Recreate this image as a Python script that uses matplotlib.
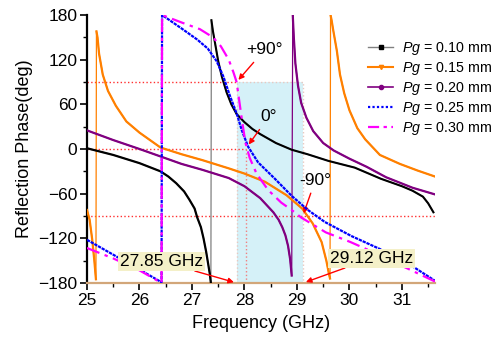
import matplotlib
matplotlib.use("Agg")
import matplotlib.pyplot as plt
from matplotlib.lines import Line2D
from matplotlib.ticker import MultipleLocator

plt.rcParams['font.family'] = ['Liberation Sans', 'DejaVu Sans']
plt.rcParams['mathtext.fontset'] = 'custom'
plt.rcParams['mathtext.it'] = 'Liberation Sans:italic'
plt.rcParams['mathtext.rm'] = 'Liberation Sans'

# ---------------- data (frequency GHz, reflection phase deg) ----------------
# Pg = 0.10 mm
f010_a = [25.0, 25.5, 26.0, 26.4, 26.55, 26.7, 26.85, 26.95, 27.05, 27.1, 27.17, 27.22, 27.27, 27.31, 27.34, 27.36]
p010_a = [1, -8, -19, -30, -37, -46, -57, -68, -80, -92, -105, -120, -138, -155, -168, -180]
f010_b = [27.37, 27.4, 27.45, 27.5, 27.57, 27.66, 27.75, 27.85, 28.0, 28.15, 28.3, 28.6, 28.9, 29.2, 29.6, 30.1, 30.6, 31.0, 31.2, 31.4, 31.5, 31.6]
p010_b = [173, 158, 138, 118, 97, 76, 60, 47, 36, 27, 20, 8, -1, -7, -16, -25, -40, -50, -56, -64, -73, -85]

# Pg = 0.15 mm
f015_a = [25.0, 25.05, 25.1, 25.14, 25.17]
p015_a = [-82, -95, -122, -150, -175]
f015_b = [25.18, 25.2, 25.23, 25.3, 25.4, 25.55, 25.75, 26.0, 26.4, 26.8, 27.2, 27.7, 28.0, 28.39, 28.8, 29.1, 29.3, 29.47, 29.56, 29.61, 29.63]
p015_b = [158, 150, 128, 100, 78, 58, 37, 22, 2, -7, -15, -26, -33, -44, -62, -80, -100, -125, -150, -168, -174]
f015_c = [29.64, 29.66, 29.69, 29.76, 29.82, 29.9, 30.0, 30.15, 30.3, 30.58, 30.96, 31.3, 31.63]
p015_c = [180, 173, 160, 132, 100, 75, 52, 28, 13, -8, -20, -29, -37]

# Pg = 0.20 mm
f020_a = [25.0, 25.5, 26.0, 26.4, 26.8, 27.2, 27.7, 28.0, 28.3, 28.55, 28.65, 28.72, 28.78, 28.83, 28.87, 28.9]
p020_a = [25, 12, 0, -10, -20, -28, -39, -50, -66, -85, -95, -105, -116, -130, -148, -170]
f020_b = [28.92, 28.94, 28.97, 29.02, 29.08, 29.18, 29.31, 29.5, 29.7, 30.0, 30.33, 30.7, 31.2, 31.63]
p020_b = [180, 150, 115, 85, 62, 42, 24, 8, -2, -13, -24, -38, -52, -61]

# Pg = 0.25 mm
f025_a = [25.0, 25.5, 26.0, 26.42]
p025_a = [-122, -142, -162, -179]
f025_b = [26.43, 26.8, 27.1, 27.3, 27.47, 27.6, 27.72, 27.85, 27.95, 28.07, 28.26, 28.58, 28.9, 29.21, 29.53, 30.04, 30.6, 31.1, 31.63]
p025_b = [180, 162, 147, 135, 118, 97, 72, 48, 25, 3, -18, -40, -63, -82, -98, -117, -135, -153, -177]

# Pg = 0.30 mm
f030_a = [25.0, 25.5, 26.0, 26.42]
p030_a = [-133, -147, -163, -180]
f030_b = [26.43, 26.8, 27.15, 27.4, 27.55, 27.7, 27.79, 27.85, 27.9, 27.96, 28.02, 28.1, 28.23, 28.45, 28.7, 28.9, 29.08, 29.55, 30.02, 30.5, 31.0, 31.63]
p030_b = [180, 170, 161, 150, 138, 120, 103, 90, 65, 35, 8, -12, -33, -55, -72, -82, -92, -112, -125, -140, -157, -178]

labels = ["$Pg$ = 0.10 mm", "$Pg$ = 0.15 mm", "$Pg$ = 0.20 mm", "$Pg$ = 0.25 mm", "$Pg$ = 0.30 mm"]
yticks = [-180, -120, -60, 0, 60, 120, 180]
xticks = [25, 26, 27, 28, 29, 30, 31]
f_band = [27.85, 29.12]
f_zero = 28.02

# ---------------- figure ----------------
fig = plt.figure(figsize=(5.01, 3.38), dpi=100)
ax = fig.add_axes([87/501, 1-283/338, 348/501, 268/338])

c010, c015, c020, c025, c030 = 'black', '#ff8000', '#800080', '#0000ff', '#ff00ff'

# highlighted band
ax.axvspan(f_band[0], f_band[1], ymin=0, ymax=(90+180)/360, facecolor='#d5f1f8', edgecolor='none', zorder=0)
ax.plot([f_band[0], f_band[0], f_band[1], f_band[1]], [-180, 90, 90, -180], color='#e8c8c0', ls=':', lw=1.0, zorder=0.5)
ax.plot([f_zero, f_zero], [-180, 0], color='#f08080', ls=':', lw=1.0, zorder=0.5)

# reference dotted lines
ax.plot([25, f_band[0]], [90, 90], color='#ff3030', ls=':', lw=1.0, zorder=0.6)
ax.plot([25, f_zero], [0, 0], color='#ff3030', ls=':', lw=1.0, zorder=0.6)
ax.plot([25, 31.63], [-90, -90], color='#ff3030', ls=':', lw=1.0, zorder=0.6)

# thin connecting lines (jumps)
ax.plot(f010_a + f010_b, p010_a + p010_b, color='gray', lw=0.9, zorder=2)
ax.plot(f015_a + f015_b + f015_c, p015_a + p015_b + p015_c, color=c015, lw=0.9, zorder=2)
ax.plot(f020_a + f020_b, p020_a + p020_b, color=c020, lw=0.9, zorder=2)

# branches
ax.plot(f010_a, p010_a, color=c010, lw=1.6, zorder=3)
ax.plot(f010_b, p010_b, color=c010, lw=1.5, zorder=3)
for f, p in [(f015_a, p015_a), (f015_b, p015_b), (f015_c, p015_c)]:
    ax.plot(f, p, color=c015, lw=1.6, zorder=3)
for f, p in [(f020_a, p020_a), (f020_b, p020_b)]:
    ax.plot(f, p, color=c020, lw=1.6, zorder=3)
ax.plot(f025_a + f025_b, p025_a + p025_b, color=c025, lw=1.6, ls=(0, (1.5, 0.4)), zorder=4)
ax.plot(f030_a + f030_b, p030_a + p030_b, color=c030, lw=1.6, ls=(0, (6, 2.5, 1.5, 2.5)), zorder=4)

# annotations
arrow = dict(arrowstyle='-|>', color='red', lw=1.0, mutation_scale=8)
ax.annotate('+90°', xy=(27.85, 90), xytext=(28.38, 133), fontsize=12.5, ha='center', va='center', arrowprops=arrow)
ax.annotate('0°', xy=(28.05, 3), xytext=(28.46, 43), fontsize=12.5, ha='center', va='center', arrowprops=arrow)
ax.annotate('-90°', xy=(29.11, -90), xytext=(29.35, -42), fontsize=12.5, ha='center', va='center', arrowprops=arrow)
box = dict(boxstyle='square,pad=0.12', fc='#f4f0c8', ec='none')
ax.annotate('27.85 GHz', xy=(f_band[0], -180), xytext=(26.42, -151), fontsize=12.5, ha='center', va='center',
            bbox=box, arrowprops=dict(arrowstyle='-|>', color='red', lw=1.0, mutation_scale=8, shrinkA=0), zorder=6)
ax.annotate('29.12 GHz', xy=(f_band[1], -180), xytext=(30.42, -147), fontsize=12.5, ha='center', va='center',
            bbox=box, arrowprops=dict(arrowstyle='-|>', color='red', lw=1.0, mutation_scale=8, shrinkA=0), zorder=6)

# axes styling
ax.set_xlim(25, 31.63)
ax.set_ylim(-180, 180)
ax.set_xticks(xticks)
ax.set_yticks(yticks)
ax.xaxis.set_minor_locator(MultipleLocator(0.5))
ax.yaxis.set_minor_locator(MultipleLocator(30))
ax.tick_params(which='major', direction='out', length=5, width=1.2, labelsize=12.5, pad=2)
ax.tick_params(which='minor', direction='out', length=3, width=1.0)
for s in ['top', 'right']:
    ax.spines[s].set_visible(False)
ax.spines['left'].set_linewidth(1.6)
ax.spines['bottom'].set_linewidth(1.6)
ax.spines['bottom'].set_color('#d2a679')
ax.set_xlabel('Frequency (GHz)', fontsize=13, labelpad=5)
ax.set_ylabel('Reflection Phase(deg)', fontsize=13, labelpad=4)

handles = [
    Line2D([], [], color='gray', lw=1, marker='s', ms=3, mfc='black', mec='black'),
    Line2D([], [], color=c015, lw=1.5, marker='v', ms=3),
    Line2D([], [], color=c020, lw=1.2, marker='o', ms=3),
    Line2D([], [], color=c025, lw=1.6, ls=(0, (1, 1))),
    Line2D([], [], color=c030, lw=1.6, ls=(0, (5, 2, 1.5, 2))),
]
fig.legend(handles, labels, loc='upper left', bbox_to_anchor=(0.735, 0.882), bbox_transform=fig.transFigure,
           frameon=False, fontsize=10.3, handlelength=1.75, handletextpad=0.6, labelspacing=0.22, borderaxespad=0,
           borderpad=0)

fig.savefig('out.png', dpi=100)
